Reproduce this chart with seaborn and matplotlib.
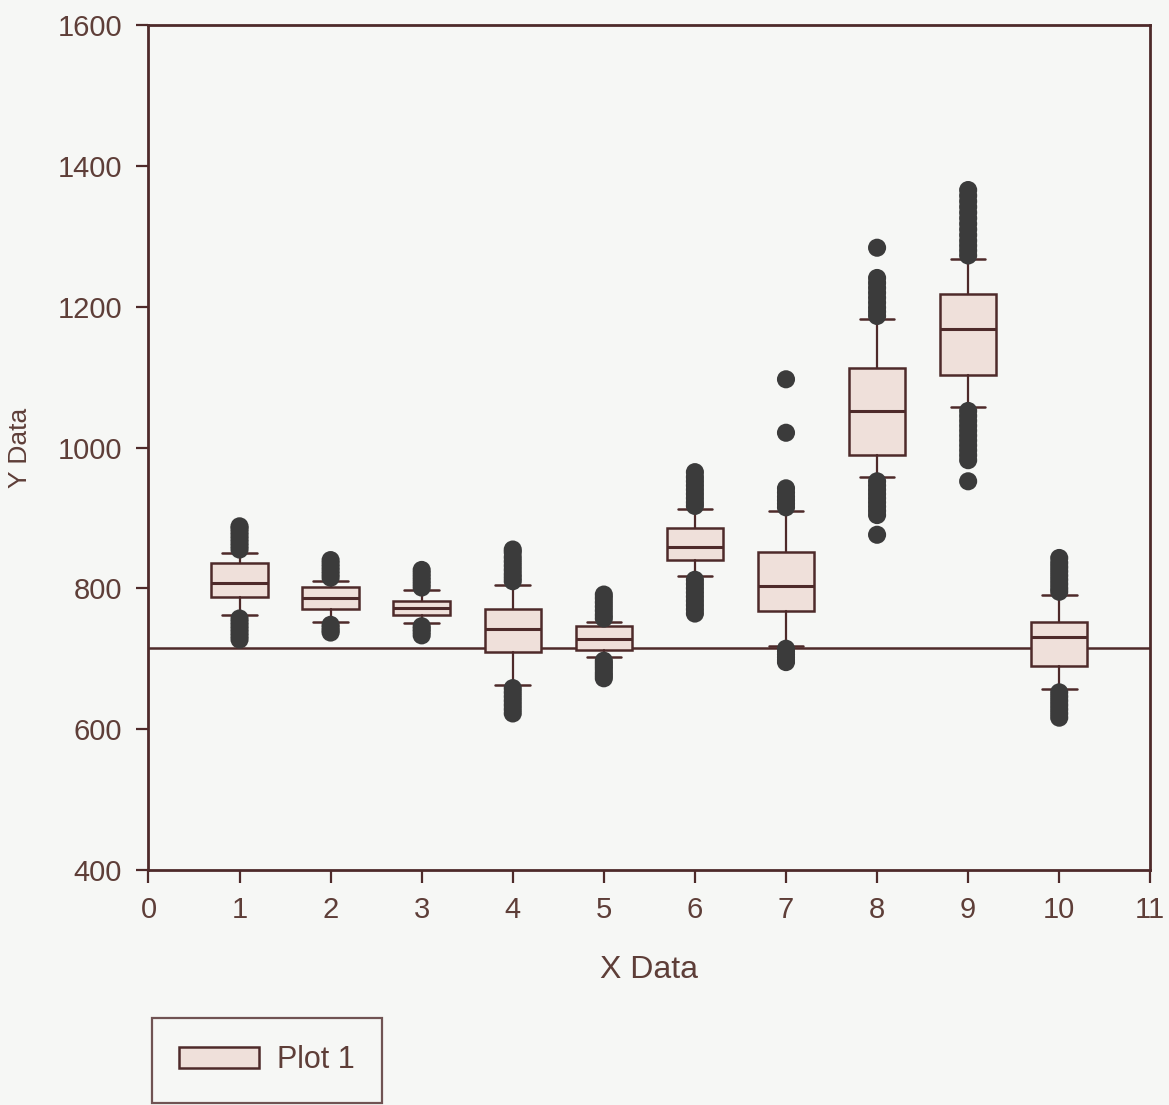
import matplotlib
matplotlib.use("Agg")
import matplotlib.pyplot as plt
from matplotlib.patches import Patch
import pandas as pd
import seaborn as sns

# Box summary per group (x position 1..10)
groups = [1, 2, 3, 4, 5, 6, 7, 8, 9, 10]
q1 = [788, 771, 762, 709, 712, 840, 767, 990, 1103, 690]
medians = [808, 786, 772, 742, 728, 858, 803, 1052, 1168, 730]
q3 = [836, 802, 782, 771, 746, 885, 852, 1113, 1218, 752]
whisker_low = [762, 752, 750, 663, 702, 817, 718, 958, 1057, 657]
whisker_high = [850, 810, 797, 805, 752, 912, 910, 1182, 1268, 790]

# Outlying observations per group
outliers = {
    1: [855, 860, 865, 870, 875, 880, 885, 888, 757, 752, 747, 742, 737, 732, 727],
    2: [815, 820, 825, 830, 835, 840, 748, 744, 740, 737],
    3: [801, 806, 811, 816, 821, 826, 746, 742, 738, 733],
    4: [810, 815, 820, 826, 832, 838, 844, 851, 855, 658, 652, 646, 640, 634, 628, 622],
    5: [757, 762, 768, 774, 780, 786, 791, 697, 693, 689, 685, 680, 676, 672],
    6: [917, 922, 928, 934, 940, 946, 952, 958, 965, 812, 806, 800, 794, 788, 782, 776, 770, 764],
    7: [915, 920, 925, 930, 936, 942, 1021, 1097, 714, 710, 706, 702, 698, 695],
    8: [1187, 1193, 1199, 1206, 1213, 1220, 1227, 1234, 1241, 1284,
        952, 946, 940, 934, 928, 922, 916, 910, 904, 876],
    9: [1273, 1280, 1287, 1294, 1302, 1310, 1318, 1326, 1334, 1342, 1350, 1358, 1366,
        1052, 1045, 1038, 1031, 1024, 1017, 1010, 1003, 996, 989, 982, 952],
    10: [795, 800, 806, 812, 818, 824, 830, 836, 843, 652, 646, 640, 634, 628, 622, 616],
}

reference_level = 715
x_ticks = list(range(0, 12))
y_ticks = [400, 600, 800, 1000, 1200, 1400, 1600]

BOX_FACE = "#efe0da"
EDGE = "#4e2a2a"
DOT = "#3b3b3b"
TEXT = "#5e3e38"

sns.set_theme(style="ticks")
plt.rcParams["font.family"] = ["Liberation Sans", "DejaVu Sans"]

fig = plt.figure(figsize=(11.69, 11.05), dpi=100, facecolor="#f6f7f5")
ax = fig.add_axes([0.127, 0.213, 0.857, 0.764])
ax.set_facecolor("#f6f7f5")

stats = [
    dict(med=m, q1=a, q3=b, whislo=lo, whishi=hi, fliers=[])
    for m, a, b, lo, hi in zip(medians, q1, q3, whisker_low, whisker_high)
]
ax.bxp(
    stats, positions=groups, widths=0.62, capwidths=0.38,
    showfliers=False, patch_artist=True, manage_ticks=False,
    boxprops=dict(facecolor=BOX_FACE, edgecolor=EDGE, linewidth=1.8),
    medianprops=dict(color=EDGE, linewidth=2.2),
    whiskerprops=dict(color=EDGE, linewidth=1.6),
    capprops=dict(color=EDGE, linewidth=1.8),
)

flier_df = pd.DataFrame(
    [(g, v) for g, vals in outliers.items() for v in vals], columns=["x", "y"]
)
sns.scatterplot(data=flier_df, x="x", y="y", color=DOT, s=170,
                edgecolor="none", ax=ax, zorder=3, legend=False)

ax.axhline(reference_level, color=EDGE, linewidth=1.8, zorder=1)

ax.set_xlim(0, 11)
ax.set_ylim(400, 1600)
ax.set_xticks(x_ticks)
ax.set_xticklabels([str(t) for t in x_ticks])
ax.set_yticks(y_ticks)
ax.tick_params(axis="both", direction="out", length=9, width=1.6, color=EDGE,
               labelcolor=TEXT, pad=10)
ax.tick_params(axis="y", labelsize=21)
ax.tick_params(axis="x", labelsize=21)
for s in ax.spines.values():
    s.set_color(EDGE)
    s.set_linewidth(2)

ax.set_xlabel("X Data", fontsize=23, color=TEXT, labelpad=22)
ax.set_ylabel("Y Data", fontsize=19, color=TEXT, labelpad=18)

handles = [Patch(facecolor=BOX_FACE, edgecolor=EDGE, linewidth=1.8, label="Plot 1")]
leg = fig.legend(handles=handles, loc="upper left", bbox_to_anchor=(0.130, 0.079),
                 borderaxespad=0, frameon=True, fancybox=False, edgecolor=EDGE,
                 facecolor="#f6f7f5", fontsize=22, handlelength=2.6, handleheight=0.7,
                 borderpad=0.9, handletextpad=0.6)
leg.get_frame().set_linewidth(1.6)
for t in leg.get_texts():
    t.set_color(TEXT)

fig.savefig("out.png", dpi=100, facecolor=fig.get_facecolor())
